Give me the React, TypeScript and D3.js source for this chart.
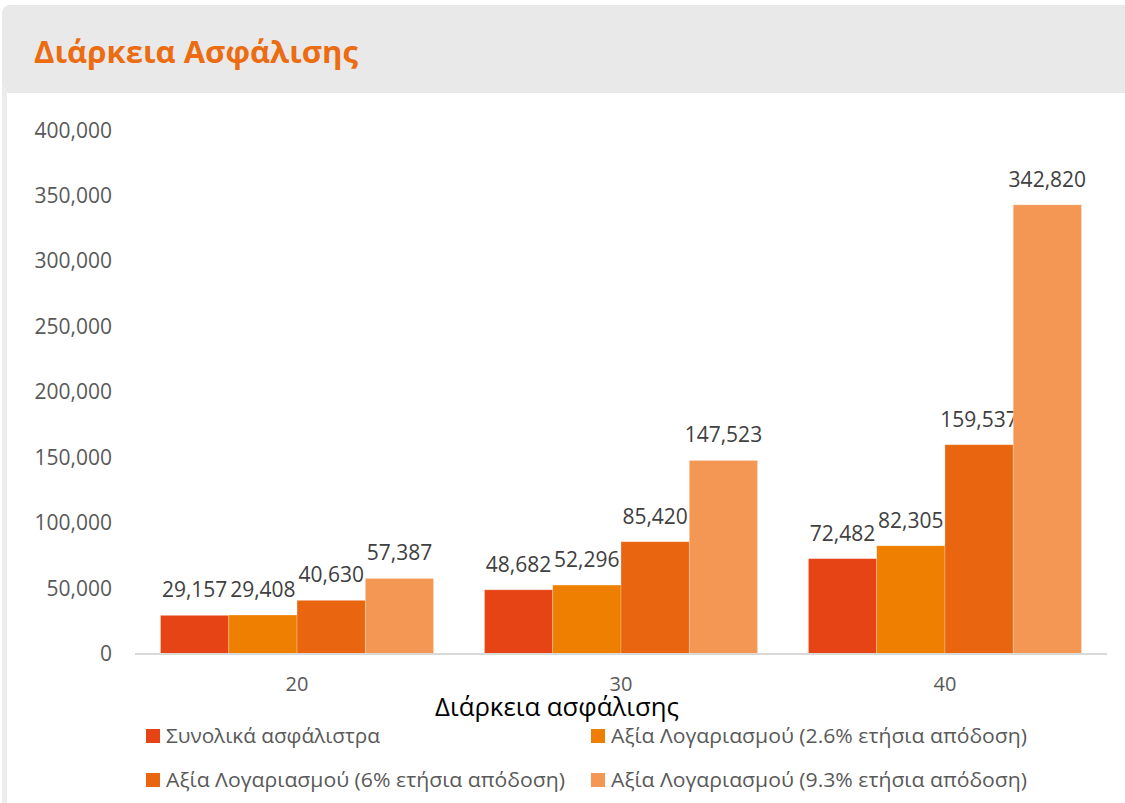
import React from "react";
import * as d3 from "d3";

const categories = ["20", "30", "40"];
const seriesNames = [
  "Συνολικά ασφάλιστρα",
  "Αξία Λογαριασμού (2.6% ετήσια απόδοση)",
  "Αξία Λογαριασμού (6% ετήσια απόδοση)",
  "Αξία Λογαριασμού (9.3% ετήσια απόδοση)",
];
const totalPremiums = [29157, 48682, 72482];
const value26 = [29408, 52296, 82305];
const value6 = [40630, 85420, 159537];
const value93 = [57387, 147523, 342820];
const seriesValues = [totalPremiums, value26, value6, value93];
const seriesColors = ["#e64415", "#ef7f00", "#e9650f", "#f49654"];
const yTicks = [0, 50000, 100000, 150000, 200000, 250000, 300000, 350000, 400000];

const W = 1125;
const H = 803;

export default function App() {
  const fmt = d3.format(",");
  const y = d3.scaleLinear().domain([0, 400000]).range([653.5, 130]);
  const x0 = d3
    .scaleBand<string>()
    .domain(categories)
    .range([135, 1107])
    .paddingInner(0.157)
    .paddingOuter(0.0787);
  const x1 = d3
    .scaleBand<number>()
    .domain(d3.range(seriesNames.length))
    .range([0, x0.bandwidth()]);

  const font = "'Open Sans', 'Noto Sans', sans-serif";

  const legendItems = [
    { sx: 146, tx: 166, by: 743, w: 214 },
    { sx: 591, tx: 611, by: 743, w: 416 },
    { sx: 146, tx: 166, by: 787, w: 399 },
    { sx: 591, tx: 611, by: 787, w: 416 },
  ];

  return (
    <svg
      width={W}
      height={H}
      viewBox={`0 0 ${W} ${H}`}
      style={{ position: "absolute", left: 0, top: 0, background: "#fff" }}
    >
      <rect x={0} y={0} width={W} height={H} fill="#fff" />
      {/* header panel */}
      <rect x={2} y={5} width={W + 20} height={88} rx={8} fill="#e9e9e9" />
      <rect x={2} y={88} width={5} height={H - 88} fill="#ececec" />
      <text
        x={34}
        y={63}
        fontFamily={font}
        fontWeight={700}
        fontSize={31}
        fill="#ec6c12"
        textLength={324}
        lengthAdjust="spacingAndGlyphs"
      >
        Διάρκεια Ασφάλισης
      </text>

      {/* y tick labels */}
      {yTicks.map((t) => (
        <text
          key={t}
          x={112}
          y={y(t) + 7.5}
          textAnchor="end"
          fontFamily={font}
          fontSize={21}
          fill="#595959"
        >
          {fmt(t)}
        </text>
      ))}

      {/* bars */}
      {categories.map((c, ci) => (
        <g key={c} transform={`translate(${x0(c)},0)`}>
          {seriesValues.map((vals, si) => {
            const v = vals[ci];
            const bx = x1(si) as number;
            const bw = x1.bandwidth();
            return (
              <g key={si}>
                <rect
                  x={bx}
                  y={y(v)}
                  width={bw}
                  height={y(0) - y(v)}
                  fill={seriesColors[si]}
                  stroke="#ffffff"
                  strokeOpacity={0.35}
                  strokeWidth={0.75}
                />
                <text
                  x={bx + bw / 2}
                  y={y(v) - 18}
                  textAnchor="middle"
                  fontFamily={font}
                  fontSize={21}
                  fill="#404040"
                >
                  {fmt(v)}
                </text>
              </g>
            );
          })}
        </g>
      ))}

      {/* x axis line */}
      <line x1={135} x2={1107} y1={654} y2={654} stroke="#d9d9d9" strokeWidth={2} />

      {/* x tick labels */}
      {categories.map((c) => (
        <text
          key={c}
          x={(x0(c) as number) + x0.bandwidth() / 2}
          y={691}
          textAnchor="middle"
          fontFamily={font}
          fontSize={20}
          fill="#595959"
        >
          {c}
        </text>
      ))}

      {/* x axis title */}
      <text
        x={435}
        y={716}
        fontFamily={font}
        fontSize={26}
        fill="#000"
        textLength={244}
        lengthAdjust="spacingAndGlyphs"
      >
        Διάρκεια ασφάλισης
      </text>

      {/* legend */}
      {seriesNames.map((name, i) => {
        const L = legendItems[i];
        return (
          <g key={name}>
            <rect x={L.sx} y={L.by - 14} width={14} height={14} fill={seriesColors[i]} />
            <text
              x={L.tx}
              y={L.by}
              fontFamily={font}
              fontSize={20}
              fill="#595959"
              textLength={L.w}
              lengthAdjust="spacingAndGlyphs"
            >
              {name}
            </text>
          </g>
        );
      })}
    </svg>
  );
}
